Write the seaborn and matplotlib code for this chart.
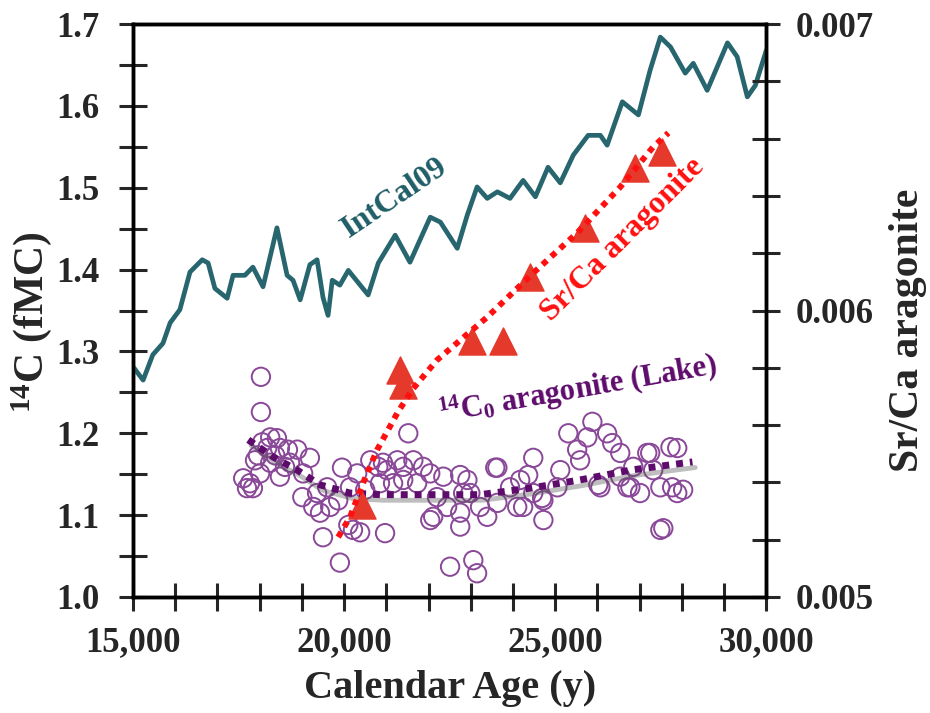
import numpy as np
import pandas as pd
import seaborn as sns
import matplotlib.pyplot as plt
import matplotlib.patheffects as pe
from matplotlib.ticker import MultipleLocator, FuncFormatter

sns.set_style('ticks')
plt.rcParams['font.family'] = ['Liberation Serif', 'DejaVu Serif']
plt.rcParams['font.weight'] = 'bold'
plt.rcParams['mathtext.fontset'] = 'custom'
plt.rcParams['mathtext.rm'] = 'Liberation Serif:bold'
plt.rcParams['mathtext.it'] = 'Liberation Serif:bold'
plt.rcParams['mathtext.bf'] = 'Liberation Serif:bold'
plt.rcParams['mathtext.default'] = 'rm'

# IntCal09 calibration curve (calendar age, fMC)
intcal_age = [15020, 15240, 15470, 15710, 15880, 16110, 16350, 16640, 16780, 16940,
              17230, 17370, 17650, 17840, 18080, 18410, 18650, 18790, 18960, 19190,
              19360, 19500, 19620, 19720, 19900, 20100, 20570, 20810, 21210, 21560,
              22040, 22280, 22680, 22920, 23150, 23390, 23630, 23930, 24240, 24530,
              24830, 25120, 25430, 25780, 26070, 26230, 26590, 26970, 27250, 27490,
              27730, 28080, 28270, 28600, 29080, 29310, 29550, 29740, 30000]
intcal_fmc = [1.280, 1.265, 1.296, 1.310, 1.335, 1.351, 1.397, 1.412, 1.408, 1.377,
              1.365, 1.393, 1.393, 1.403, 1.379, 1.451, 1.393, 1.387, 1.363, 1.406,
              1.412, 1.366, 1.344, 1.387, 1.381, 1.399, 1.369, 1.408, 1.442, 1.409,
              1.464, 1.458, 1.426, 1.467, 1.501, 1.487, 1.495, 1.487, 1.509, 1.489,
              1.525, 1.506, 1.540, 1.564, 1.564, 1.552, 1.605, 1.589, 1.644, 1.684,
              1.672, 1.640, 1.652, 1.619, 1.677, 1.660, 1.611, 1.625, 1.668]

# 14C0 aragonite (Lake) measurements
lake_age = [18030, 18030, 18250, 18410, 18060, 18180, 17960, 18480, 18670, 18890,
            19190, 17890, 18250, 18600, 18010, 18480, 17770, 17700, 17840, 19030,
            19010, 19360, 19270, 19430, 19670, 19860, 19950, 20310, 19600, 19500,
            19900, 20210, 20380, 20970, 21520, 20620, 20810, 21020, 21260, 21400,
            21640, 21870, 22040, 20850, 21160, 21400, 21730, 22350, 22200, 22750,
            22820, 22110, 22750, 22510, 23060, 23150, 20920, 22920, 23630, 24480,
            25120, 25310, 25760, 26230, 25880, 25520, 25590, 26350, 26540, 27250,
            27730, 27890, 26540, 27010, 27890, 28030, 27490, 26780, 23930, 24170,
            24480, 24720, 23630, 24100, 23220, 22990, 22440, 22040, 22750, 23390,
            24720, 24240, 26070, 27560, 27490, 20100, 24360, 25050, 24690, 26020,
            26710, 26850, 27180, 27320, 27770, 23580, 20140, 20500, 18720, 18370,
            17610]
lake_fmc = [1.269, 1.226, 1.195, 1.194, 1.189, 1.182, 1.173, 1.182, 1.180, 1.180,
            1.170, 1.167, 1.164, 1.159, 1.151, 1.147, 1.139, 1.133, 1.133, 1.151,
            1.122, 1.127, 1.110, 1.103, 1.110, 1.118, 1.158, 1.151, 1.134, 1.073,
            1.042, 1.082, 1.079, 1.078, 1.200, 1.167, 1.159, 1.155, 1.167, 1.159,
            1.167, 1.159, 1.151, 1.139, 1.139, 1.143, 1.139, 1.147, 1.122, 1.149,
            1.127, 1.098, 1.086, 1.037, 1.045, 1.029, 1.164, 1.143, 1.158, 1.170,
            1.155, 1.200, 1.195, 1.200, 1.214, 1.180, 1.167, 1.188, 1.176, 1.176,
            1.183, 1.182, 1.147, 1.127, 1.127, 1.131, 1.134, 1.134, 1.134, 1.143,
            1.127, 1.118, 1.115, 1.110, 1.110, 1.127, 1.110, 1.094, 1.103, 1.098,
            1.094, 1.110, 1.134, 1.084, 1.082, 1.088, 1.149, 1.134, 1.121, 1.137,
            1.134, 1.159, 1.176, 1.155, 1.134, 1.158, 1.134, 1.131, 1.164, 1.173,
            1.145]

# trend through lake points
lake_fit_age = [17730, 18320, 18890, 19430, 20140, 20850, 22040, 23220, 24410, 25590, 26780, 28250]
lake_fit_fmc = [1.192, 1.171, 1.155, 1.137, 1.127, 1.125, 1.125, 1.125, 1.133, 1.143, 1.155, 1.165]

# Sr/Ca aragonite (right axis)
srca_age = [20430, 21330, 21400, 23030, 23770, 24410, 25710, 26900, 27540]
srca_val = [0.005321, 0.005792, 0.005740, 0.005894, 0.005894, 0.006117, 0.006288, 0.006497, 0.006553]

srca_fit_age = [19860, 20140, 20450, 20780, 21260, 21610, 22200, 23390, 24480, 25520, 26540, 27320, 27680]
srca_fit_val = [0.005209, 0.005279, 0.005398, 0.005513, 0.005642, 0.005723, 0.005827, 0.005977,
                0.006131, 0.006271, 0.006431, 0.006571, 0.006620]

teal = '#28666f'
purple = '#5e0c6c'
circ = '#8a4898'
red = '#ff1010'
tri = '#e5392c'

fig = plt.figure(figsize=(9.3, 7.13), dpi=100)
ax = fig.add_axes([0.143, 0.1627, 0.681, 0.8036])
ax2 = ax.twinx()

sns.lineplot(x=intcal_age, y=intcal_fmc, ax=ax, color=teal, lw=3.4,
             estimator=None, sort=False, zorder=3,
             solid_joinstyle='round', solid_capstyle='round')
sns.scatterplot(x=lake_age, y=lake_fmc, ax=ax, marker='o', s=175,
                facecolors='none', edgecolor=circ, linewidth=1.4, zorder=2)
# soft shadow under the lake trend
sns.lineplot(x=lake_fit_age, y=lake_fit_fmc, ax=ax, color='#777777', lw=3.5,
             estimator=None, sort=False, zorder=3,
             path_effects=[pe.SimpleLineShadow(offset=(2, -4), shadow_color='#555555', alpha=0.38)])
sns.lineplot(x=lake_fit_age, y=lake_fit_fmc, ax=ax, color=purple, lw=5,
             linestyle=(0, (1, 1)), estimator=None, sort=False, zorder=4)

sns.lineplot(x=srca_fit_age, y=srca_fit_val, ax=ax2, color=red, lw=4.3,
             linestyle=(0, (1, 1)), estimator=None, sort=False, zorder=4)
sns.scatterplot(x=srca_age, y=srca_val, ax=ax2, marker='^', s=380,
                color=tri, edgecolor=tri, linewidth=1, zorder=3)

ax.set_xlim(15000, 30000)
ax.set_ylim(1.0, 1.7)
ax2.set_ylim(0.005, 0.007)

ax.xaxis.set_major_locator(MultipleLocator(5000))
ax.xaxis.set_minor_locator(MultipleLocator(1000))
ax.xaxis.set_major_formatter(FuncFormatter(lambda v, p: f'{int(v):,}'))
ax.yaxis.set_major_locator(MultipleLocator(0.1))
ax.yaxis.set_minor_locator(MultipleLocator(0.05))
ax.yaxis.set_major_formatter(FuncFormatter(lambda v, p: f'{v:.1f}'))
ax2.yaxis.set_major_locator(MultipleLocator(0.001))
ax2.yaxis.set_minor_locator(MultipleLocator(0.0002))
ax2.yaxis.set_major_formatter(FuncFormatter(lambda v, p: f'{v:.3f}'))

for a in (ax, ax2):
    for s in a.spines.values():
        s.set_linewidth(2.5)
        s.set_color('black')
        s.set_visible(True)

ax.tick_params(axis='y', which='both', direction='inout', length=20, width=2.2,
               labelsize=25, pad=14, right=False)
ax.tick_params(axis='x', which='both', direction='inout', length=20, width=2.2,
               labelsize=25, pad=11, top=False)
ax2.tick_params(axis='y', which='both', direction='inout', length=20, width=2.2,
                labelsize=25, pad=11)

ax.set_xlabel('Calendar Age (y)', fontsize=29, fontweight='bold')
ax.xaxis.set_label_coords(0.5, -0.128)
ax.set_ylabel('$^{14}$C (fMC)', fontsize=30, fontweight='bold')
ax.yaxis.set_label_coords(-0.125, 0.48)
ax2.set_ylabel('Sr/Ca aragonite', fontsize=30, fontweight='bold')
ax2.yaxis.set_label_coords(1.193, 0.466)

ax.text(21210, 1.487, 'IntCal09', color='#1f5d67', fontsize=23, fontweight='bold',
        rotation=34, ha='center', va='center', rotation_mode='anchor', zorder=5)
ax.text(26590, 1.436, 'Sr/Ca aragonite', color=red, fontsize=23, fontweight='bold',
        rotation=45, ha='center', va='center', rotation_mode='anchor', zorder=5)
ax.text(25545, 1.253, '$^{14}$C$_0$ aragonite (Lake)', color=purple, fontsize=22,
        fontweight='bold', rotation=10, ha='center', va='center',
        rotation_mode='anchor', zorder=5)

fig.savefig('out.png', dpi=100)
